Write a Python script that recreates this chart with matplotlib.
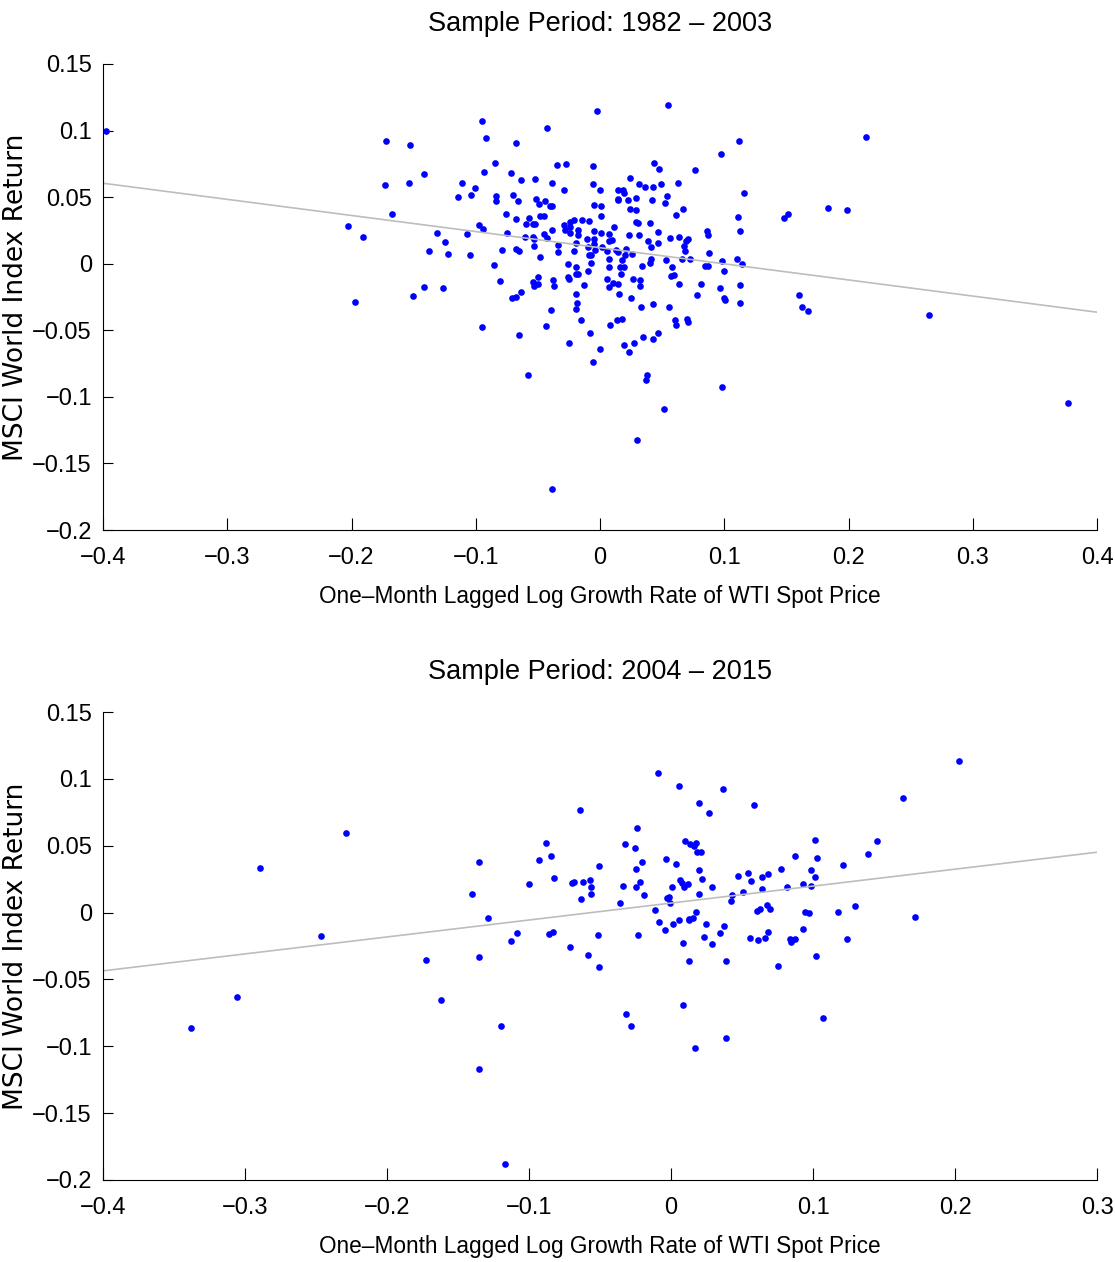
import numpy as np
from matplotlib import pyplot as plt
from matplotlib.ticker import FuncFormatter

plt.rcParams['font.family'] = ['Liberation Sans', 'DejaVu Sans']

# 1982 - 2003: one-month lagged WTI log growth vs MSCI world return
oil_1 = [-0.3976, -0.0952, -0.0022, -0.0920, -0.0678, -0.0424, -0.0843, -0.0931, -0.0716, -0.0344,
         -0.0274, -0.0054, -0.1113, -0.1008, -0.1038, -0.1140, -0.0839, -0.0839, -0.0633, -0.0521,
         -0.0389, -0.0700, -0.0662, -0.0513, -0.0489, -0.0445, -0.0402, -0.0384, -0.0290, -0.0054,
         -0.0051, -0.0754, -0.0676, -0.0480, -0.0451, -0.0574, -0.0596, -0.0537, -0.0521, -0.0971,
         -0.0939, -0.0287, -0.0241, -0.0209, -0.0142, -0.0089, -0.0239, -0.0390, -0.0181, -0.0048,
         -0.1247, -0.1226, -0.1073, -0.1046, -0.0748, -0.0789, -0.0678, -0.0649, -0.0606, -0.0539,
         -0.0531, -0.0534, -0.0453, -0.0429, -0.0340, -0.0336, -0.0284, -0.0241, -0.0179, -0.0196,
         -0.0209, -0.0105, -0.0097, -0.0048, -0.0046, -0.0040, -0.0091, -0.0070, -0.0072, -0.0094,
         -0.0480, -0.0851, -0.0258, -0.0196, -0.0196, -0.0175, -0.0258, -0.0249, -0.0126, -0.0805,
         -0.0542, -0.0529, -0.0501, -0.0497, -0.0378, -0.0373, -0.1261, -0.0711, -0.0676, -0.0636,
         -0.0191, -0.0183, -0.0191, -0.0392, -0.0155, -0.0947, -0.0432, -0.0654, -0.0078, -0.0247,
         0.0002, 0.0550, 0.1119, 0.0974, 0.0437, 0.0475, 0.0762, 0.0239, 0.0314, 0.0365,
         0.0424, 0.0491, 0.0630, 0.0000, 0.0145, 0.0183, 0.0191, 0.0142, 0.0145, 0.0225,
         0.0290, 0.0416, 0.0542, 0.0523, 0.1157, 0.0008, 0.0008, 0.0244, 0.0290, 0.0670,
         0.0609, 0.1111, 0.0115, 0.0292, 0.0303, 0.0405, 0.0469, 0.0861, 0.1129, 0.0008,
         0.0070, 0.0072, 0.0094, 0.0231, 0.0311, 0.0467, 0.0384, 0.0410, 0.0561, 0.0638,
         0.0711, 0.0695, 0.0678, 0.0684, 0.0872, 0.0014, 0.0059, 0.0126, 0.0147, 0.0209,
         0.0204, 0.0258, 0.0075, 0.0070, 0.0175, 0.0163, 0.0196, 0.0167, 0.0340, 0.0408,
         0.0400, 0.0534, 0.0582, 0.0658, 0.0724, 0.0877, 0.0847, 0.0867, 0.0979, 0.1103,
         0.1145, 0.0996, 0.0054, 0.0072, 0.0102, 0.0145, 0.0268, 0.0322, 0.0322, 0.0569,
         0.0593, 0.0636, 0.0810, 0.0966, 0.1124, 0.0155, 0.0247, 0.0781, 0.0998, 0.1004,
         0.1127, 0.0330, 0.0429, 0.0555, 0.0601, 0.0614, 0.0703, 0.0708, 0.0083, 0.0137,
         0.0177, 0.0469, 0.0429, 0.0346, 0.0274, 0.0191, 0.0231, -0.1720, -0.1527, -0.1414,
         -0.1730, -0.1540, -0.1676, -0.2031, -0.1907, -0.1312, -0.1379, -0.1414, -0.1505, -0.1969,
         -0.0054, -0.0579, 0.0378, 0.0370, 0.0515, 0.0295, -0.0384, 0.0982, 0.2143, 0.1511,
         0.1483, 0.1835, 0.1988, 0.1602, 0.1628, 0.1674, 0.2648, 0.3767]
ret_1 = [0.0995, 0.1071, 0.1146, 0.0941, 0.0905, 0.1023, 0.0753, 0.0690, 0.0680, 0.0740,
         0.0748, 0.0733, 0.0607, 0.0570, 0.0515, 0.0502, 0.0505, 0.0472, 0.0630, 0.0635,
         0.0607, 0.0515, 0.0470, 0.0485, 0.0445, 0.0470, 0.0437, 0.0430, 0.0552, 0.0595,
         0.0440, 0.0372, 0.0337, 0.0362, 0.0359, 0.0342, 0.0295, 0.0295, 0.0297, 0.0292,
         0.0261, 0.0292, 0.0314, 0.0332, 0.0332, 0.0322, 0.0276, 0.0252, 0.0254, 0.0244,
         0.0162, 0.0074, 0.0222, 0.0062, 0.0234, 0.0104, 0.0111, 0.0094, 0.0204, 0.0201,
         0.0189, 0.0134, 0.0222, 0.0194, 0.0137, 0.0089, 0.0252, 0.0227, 0.0219, 0.0152,
         0.0099, 0.0189, 0.0124, 0.0186, 0.0149, 0.0101, 0.0069, 0.0064, 0.0006, -0.0054,
         0.0047, -0.0006, -0.0004, -0.0021, -0.0079, -0.0074, -0.0101, -0.0111, -0.0162, -0.0131,
         -0.0139, -0.0167, -0.0101, -0.0149, -0.0119, -0.0167, -0.0186, -0.0254, -0.0252, -0.0214,
         -0.0231, -0.0295, -0.0337, -0.0344, -0.0422, -0.0472, -0.0470, -0.0539, -0.0517, -0.0595,
         -0.0642, 0.1189, 0.0918, 0.0823, 0.0753, 0.0710, 0.0705, 0.0642, 0.0600, 0.0575,
         0.0575, 0.0595, 0.0605, 0.0550, 0.0557, 0.0554, 0.0530, 0.0475, 0.0487, 0.0477,
         0.0494, 0.0482, 0.0512, 0.0455, 0.0532, 0.0437, 0.0362, 0.0409, 0.0404, 0.0409,
         0.0364, 0.0349, 0.0274, 0.0314, 0.0304, 0.0304, 0.0239, 0.0244, 0.0246, 0.0229,
         0.0222, 0.0174, 0.0179, 0.0212, 0.0212, 0.0156, 0.0174, 0.0126, 0.0192, 0.0201,
         0.0189, 0.0169, 0.0134, 0.0096, 0.0214, 0.0122, 0.0096, 0.0104, 0.0089, 0.0111,
         0.0069, 0.0074, 0.0036, -0.0021, 0.0029, -0.0021, -0.0021, -0.0077, -0.0014, 0.0039,
         0.0006, 0.0029, -0.0021, 0.0039, 0.0032, 0.0081, -0.0017, -0.0017, 0.0021, 0.0039,
         -0.0004, -0.0051, -0.0114, -0.0174, -0.0147, -0.0149, -0.0114, -0.0119, -0.0164, -0.0089,
         -0.0081, -0.0152, -0.0156, -0.0186, -0.0162, -0.0231, -0.0259, -0.0234, -0.0257, -0.0276,
         -0.0292, -0.0325, -0.0304, -0.0322, -0.0424, -0.0457, -0.0417, -0.0434, -0.0460, -0.0424,
         -0.0412, -0.0522, -0.0565, -0.0554, -0.0597, -0.0607, -0.0660, 0.0918, 0.0890, 0.0672,
         0.0588, 0.0605, 0.0377, 0.0287, 0.0204, 0.0229, 0.0094, -0.0174, -0.0242, -0.0284,
         -0.0738, -0.0832, -0.0838, -0.0875, -0.1093, -0.1326, -0.1692, -0.0928, 0.0948, 0.0374,
         0.0340, 0.0415, 0.0407, -0.0237, -0.0327, -0.0357, -0.0387, -0.1048]

# 2004 - 2015
oil_2 = [-0.0089, -0.0643, -0.0239, -0.0880, -0.0322, -0.0251, -0.0033, -0.1350, -0.0927, -0.0843,
         -0.0204, -0.0246, -0.0507, -0.0822, -0.1002, -0.0695, -0.0683, -0.0618, -0.0568, -0.0563,
         -0.0565, -0.0338, -0.0244, -0.0218, -0.0190, -0.1399, -0.0632, -0.0359, -0.0028, -0.0012,
         -0.0113, -0.0087, -0.0042, -0.1289, -0.1082, -0.1127, -0.0861, -0.0831, -0.0516, -0.0235,
         -0.0711, -0.0585, -0.1354, -0.1727, 0.0054, 0.0364, 0.0197, 0.0265, 0.0587, 0.0099,
         0.0134, 0.0164, 0.0178, 0.0185, 0.0213, 0.1012, 0.1028, 0.0871, 0.1385, 0.1209,
         0.0035, 0.0197, 0.0216, 0.0061, 0.0075, 0.0089, 0.0120, 0.0005, 0.0289, 0.0470,
         0.0542, 0.0561, 0.0643, 0.0681, 0.0639, 0.0775, 0.0819, 0.0930, 0.0988, 0.1012,
         0.0988, 0.0195, 0.0432, 0.0420, 0.0509, -0.0007, 0.0606, 0.0629, 0.0674, 0.0699,
         0.0942, 0.0970, 0.1174, 0.1296, 0.0012, 0.0054, 0.0127, 0.0129, 0.0157, 0.0174,
         0.0249, 0.0373, 0.0343, 0.0232, 0.0558, 0.0611, 0.0664, 0.0683, 0.0836, 0.0875,
         0.0927, 0.1237, -0.1622, -0.1195, -0.1354, -0.0505, -0.0317, -0.0280, 0.0087, 0.0129,
         0.0087, 0.0169, 0.0287, 0.0387, 0.0385, 0.0751, 0.0843, 0.1021, 0.1073, -0.1169,
         -0.2287, -0.2894, -0.2465, -0.3054, -0.3378, 0.2028, 0.1634, 0.1449, 0.1720]
ret_2 = [0.1044, 0.0765, 0.0631, 0.0521, 0.0513, 0.0485, 0.0401, 0.0376, 0.0393, 0.0423,
         0.0381, 0.0328, 0.0346, 0.0259, 0.0212, 0.0221, 0.0231, 0.0231, 0.0246, 0.0191,
         0.0141, 0.0201, 0.0194, 0.0231, 0.0129, 0.0139, 0.0099, 0.0074, 0.0107, 0.0119,
         0.0019, -0.0068, -0.0128, -0.0040, -0.0150, -0.0215, -0.0162, -0.0147, -0.0170, -0.0168,
         -0.0260, -0.0315, -0.0330, -0.0355, 0.0945, 0.0924, 0.0820, 0.0747, 0.0803, 0.0536,
         0.0511, 0.0500, 0.0523, 0.0455, 0.0453, 0.0541, 0.0408, 0.0421, 0.0438, 0.0358,
         0.0361, 0.0316, 0.0254, 0.0246, 0.0219, 0.0191, 0.0214, 0.0191, 0.0191, 0.0274,
         0.0296, 0.0236, 0.0266, 0.0286, 0.0174, 0.0328, 0.0194, 0.0216, 0.0316, 0.0269,
         0.0199, 0.0141, 0.0129, 0.0087, 0.0154, 0.0070, 0.0012, 0.0027, 0.0057, 0.0027,
         0.0004, -0.0003, 0.0004, 0.0049, -0.0085, -0.0058, -0.0046, -0.0058, -0.0038, 0.0007,
         -0.0083, -0.0098, -0.0150, -0.0182, -0.0188, -0.0205, -0.0188, -0.0143, -0.0197, -0.0197,
         -0.0120, -0.0200, -0.0651, -0.0850, -0.1170, -0.0405, -0.0756, -0.0846, -0.0230, -0.0362,
         -0.0693, -0.1010, -0.0235, -0.0362, -0.0940, -0.0397, -0.0222, -0.0325, -0.0786, -0.1880,
         0.0598, 0.0331, -0.0173, -0.0634, -0.0865, 0.1136, 0.0857, 0.0538, -0.0033]

titles = ['Sample Period: 1982 – 2003', 'Sample Period: 2004 – 2015']
xlims = [(-0.4, 0.4), (-0.4, 0.3)]
ylim = (-0.2, 0.15)
yticks = [-0.2, -0.15, -0.1, -0.05, 0, 0.05, 0.1, 0.15]


def fmt(v, pos):
    if abs(v) < 1e-9:
        return '0'
    return ('%g' % round(v, 4)).replace('-', '\u2212')


fig = plt.figure(figsize=(11.15, 12.62), dpi=100)
positions = [[0.0924, 0.580, 0.8915, 0.3693], [0.0924, 0.065, 0.8915, 0.3708]]

for pos, oil, ret, title, xlim in zip(positions, [oil_1, oil_2], [ret_1, ret_2], titles, xlims):
    ax = fig.add_axes(pos)
    ax.plot(oil, ret, 'o', color='blue', markersize=4.8, markeredgewidth=0)

    # OLS fit line
    b, a = np.polyfit(oil, ret, 1)
    xs = np.array(xlim)
    ax.plot(xs, a + b * xs, color='#bdbdbd', linewidth=1.2)

    ax.set_xlim(xlim)
    ax.set_ylim(ylim)
    ax.set_xticks(np.round(np.arange(xlim[0], xlim[1] + 0.001, 0.1), 1))
    ax.set_yticks(yticks)
    ax.xaxis.set_major_formatter(FuncFormatter(fmt))
    ax.yaxis.set_major_formatter(FuncFormatter(fmt))
    ax.spines['top'].set_visible(False)
    ax.spines['right'].set_visible(False)
    ax.tick_params(axis='x', direction='in', length=9, width=0.8, labelsize=17, pad=12)
    ax.tick_params(axis='y', direction='in', length=7, width=0.8, labelsize=17, pad=8)
    ax.set_title(title, fontsize=19.5, pad=24)
    ax.set_xlabel('One–Month Lagged Log Growth Rate of WTI Spot Price', fontsize=16.3, labelpad=12)
    ax.set_ylabel('MSCI World Index Return', fontsize=19, family=['DejaVu Sans'])
    ax.yaxis.set_label_coords(-0.074, 0.5)

fig.savefig('out.png', dpi=100)
